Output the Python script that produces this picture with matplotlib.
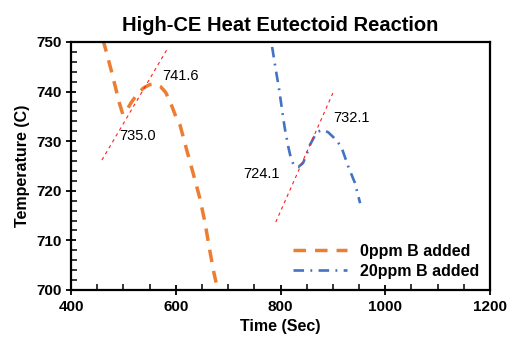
import matplotlib.pyplot as plt
from matplotlib.ticker import MultipleLocator

# data
t_0ppm = [461, 469, 477, 485, 492, 499, 506, 515, 526, 538, 550, 561, 571, 581, 591, 600, 608,
          621, 633, 646, 656, 664, 673, 677]
T_0ppm = [750.5, 747.4, 744.2, 740.8, 737.8, 735.4, 736.2, 737.8, 739.4, 740.7, 741.4, 741.5,
          741.0, 739.8, 737.5, 735.0, 733.3, 728.2, 723.6, 718.5, 713.5, 708.5, 703.4, 701.5]

t_20ppm = [784, 791, 797, 803, 808, 815, 820, 826, 834, 843, 850, 856, 864, 871, 881, 891, 900,
           909, 917, 929, 942, 952]
T_20ppm = [749.0, 744.4, 740.7, 736.3, 732.7, 728.8, 726.5, 725.0, 724.8, 725.6, 727.4, 729.2,
           730.8, 731.9, 732.3, 731.8, 730.9, 729.9, 728.6, 725.0, 721.6, 717.5]

tan_0ppm_t = [459, 585]
tan_0ppm_T = [726.2, 748.8]
tan_20ppm_t = [791, 900]
tan_20ppm_T = [713.7, 739.7]

labels = ['741.6', '735.0', '724.1', '732.1']
label_t = [574, 492, 728, 900]
label_T = [743.2, 731.0, 723.4, 734.6]

orange = '#ED7D31'
blue = '#4472C4'

plt.rcParams['font.family'] = ['Liberation Sans', 'DejaVu Sans']
plt.rcParams['font.weight'] = 'bold'

fig = plt.figure(figsize=(5.09, 3.47), dpi=100)
ax = fig.add_axes([0.1395, 0.1643, 0.8232, 0.7147])

ax.plot(t_0ppm, T_0ppm, color=orange, lw=2.5, ls=(0, (3.6, 2.6)), label='0ppm B added')
ax.plot(t_20ppm, T_20ppm, color=blue, lw=1.9, ls=(0, (4.0, 2.4, 0.7, 2.4)), label='20ppm B added')
ax.plot(tan_0ppm_t, tan_0ppm_T, color='#FF2020', lw=0.8, ls=(0, (3, 3.2)))
ax.plot(tan_20ppm_t, tan_20ppm_T, color='#FF2020', lw=0.8, ls=(0, (3, 3.2)))

for s, x, y in zip(labels, label_t, label_T):
    ax.text(x, y, s, fontsize=10.5, va='center', ha='left', fontweight='normal',
            family=['Liberation Sans Narrow', 'Liberation Sans'])

ax.set_xlim(400, 1200)
ax.set_ylim(700, 750)
ax.xaxis.set_major_locator(MultipleLocator(200))
ax.xaxis.set_minor_locator(MultipleLocator(50))
ax.yaxis.set_major_locator(MultipleLocator(10))
ax.yaxis.set_minor_locator(MultipleLocator(2))
ax.tick_params(which='major', direction='inout', length=7, width=1.3, labelsize=11)
ax.tick_params(which='minor', direction='in', length=4, width=1.1)
for sp in ax.spines.values():
    sp.set_linewidth(1.6)

ax.set_xlabel('Time (Sec)', fontsize=11.5, fontweight='bold')
ax.set_ylabel('Temperature (C)', fontsize=11.5, fontweight='bold')
ax.set_title('High-CE Heat Eutectoid Reaction', fontsize=14.5, fontweight='bold', pad=8)

ax.legend(loc='lower right', frameon=False, handlelength=3.4,
          prop={'weight': 'bold', 'size': 11.5}, borderaxespad=0.3, labelspacing=0.3)

plt.savefig('out.png', dpi=100)
